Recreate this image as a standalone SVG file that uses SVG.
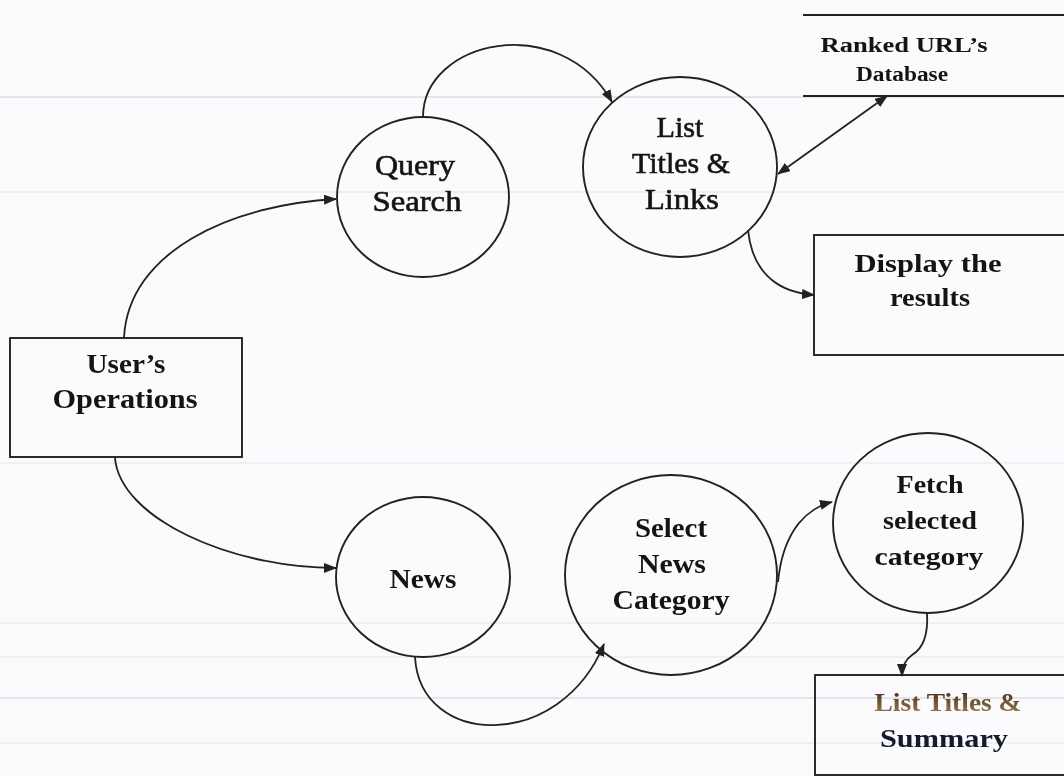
<svg xmlns="http://www.w3.org/2000/svg" width="1064" height="776" viewBox="0 0 1064 776">
  <style>
    .shape { fill: none; stroke: #222; stroke-width: 1.9; }
    .store { stroke: #222; stroke-width: 2.2; }
    .flow { fill: none; stroke: #222; stroke-width: 1.8; }
    .lbl { font-family: "Liberation Serif", "Times New Roman", serif; fill: #141414; text-anchor: middle; }
    .b { font-weight: bold; }
    .m { stroke: #141414; stroke-width: 0.6; }
    .rule { stroke: #c9c6d2; stroke-width: 1.5; }
  </style>
  <defs>
    <marker id="arrow" viewBox="0 0 13 10" markerWidth="13" markerHeight="10" refX="12" refY="5" orient="auto-start-reverse" markerUnits="userSpaceOnUse">
      <path d="M0,0 L13,5 L0,10 z" fill="#222"/>
    </marker>
    <linearGradient id="brown" x1="0" y1="0" x2="0" y2="1">
      <stop offset="0" stop-color="#3a2818"/>
      <stop offset="1" stop-color="#a58650"/>
    </linearGradient>
  </defs>

  <!-- paper background with faint ruled lines -->
  <rect x="0" y="0" width="1064" height="776" fill="#fbfafc"/>
  <g id="paper-rules" opacity="0.55">
    <line class="rule" x1="0" y1="97" x2="1064" y2="97" stroke="#d8cfd6"/>
    <line class="rule" x1="0" y1="192" x2="1064" y2="192" opacity="0.6"/>
    <line class="rule" x1="0" y1="463" x2="1064" y2="463" opacity="0.5"/>
    <line class="rule" x1="0" y1="623" x2="1064" y2="623" opacity="0.6"/>
    <line class="rule" x1="0" y1="657" x2="1064" y2="657" opacity="0.6"/>
    <line class="rule" x1="0" y1="698" x2="1064" y2="698" stroke="#a9a9bd"/>
    <line class="rule" x1="0" y1="743" x2="1064" y2="743" opacity="0.6"/>
  </g>

  <!-- connectors -->
  <g id="connectors">
    <path class="flow" d="M124,338 C128,252 230,205 336,199" marker-end="url(#arrow)"/>
    <path class="flow" d="M115,458 C120,518 230,568 336,568" marker-end="url(#arrow)"/>
    <path class="flow" d="M423,117 C423,40 560,10 612,102" marker-end="url(#arrow)"/>
    <path class="flow" d="M778,174 L887,96" marker-start="url(#arrow)" marker-end="url(#arrow)"/>
    <path class="flow" d="M748,230 C752,270 775,292 814,295" marker-end="url(#arrow)"/>
    <path class="flow" d="M415,657 C420,748 560,752 604,644" marker-end="url(#arrow)"/>
    <path class="flow" d="M778,582 C782,540 800,510 832,502" marker-end="url(#arrow)"/>
    <path class="flow" d="M927,613 Q929,645 912,655 Q902,662 902,676" marker-end="url(#arrow)"/>
  </g>

  <g id="users-operations">
    <rect class="shape" x="10" y="338" width="232" height="119"/>
    <text class="lbl b" font-size="28" x="126" y="373" textLength="79" lengthAdjust="spacingAndGlyphs">User’s</text>
    <text class="lbl b" font-size="28" x="125" y="408" textLength="145" lengthAdjust="spacingAndGlyphs">Operations</text>
  </g>

  <g id="query-search">
    <ellipse class="shape" cx="423" cy="197" rx="86" ry="80"/>
    <text class="lbl m" font-size="29" x="415" y="175" textLength="80" lengthAdjust="spacingAndGlyphs">Query</text>
    <text class="lbl m" font-size="29" x="417" y="211" textLength="89" lengthAdjust="spacingAndGlyphs">Search</text>
  </g>

  <g id="list-titles-links">
    <ellipse class="shape" cx="680" cy="167" rx="97" ry="90"/>
    <text class="lbl m" font-size="29" x="680" y="137" textLength="47" lengthAdjust="spacingAndGlyphs">List</text>
    <text class="lbl m" font-size="29" x="681" y="173" textLength="98" lengthAdjust="spacingAndGlyphs">Titles &amp;</text>
    <text class="lbl m" font-size="29" x="682" y="209" textLength="74" lengthAdjust="spacingAndGlyphs">Links</text>
  </g>

  <g id="ranked-urls-database">
    <line class="store" x1="803" y1="15" x2="1064" y2="15"/>
    <line class="store" x1="803" y1="96" x2="1064" y2="96"/>
    <text class="lbl b" font-size="20" x="904" y="52" textLength="167" lengthAdjust="spacingAndGlyphs">Ranked URL’s</text>
    <text class="lbl b" font-size="20" x="902" y="81" textLength="92" lengthAdjust="spacingAndGlyphs">Database</text>
  </g>

  <g id="display-results">
    <rect class="shape" x="814" y="235" width="262" height="120"/>
    <text class="lbl b" font-size="26" x="928" y="272" textLength="147" lengthAdjust="spacingAndGlyphs">Display the</text>
    <text class="lbl b" font-size="26" x="930" y="306" textLength="80" lengthAdjust="spacingAndGlyphs">results</text>
  </g>

  <g id="news">
    <ellipse class="shape" cx="423" cy="577" rx="87" ry="80"/>
    <text class="lbl b" font-size="27" x="423" y="588" textLength="67" lengthAdjust="spacingAndGlyphs">News</text>
  </g>

  <g id="select-news-category">
    <ellipse class="shape" cx="671" cy="575" rx="106" ry="100"/>
    <text class="lbl b" font-size="27" x="671" y="537" textLength="72" lengthAdjust="spacingAndGlyphs">Select</text>
    <text class="lbl b" font-size="27" x="672" y="573" textLength="68" lengthAdjust="spacingAndGlyphs">News</text>
    <text class="lbl b" font-size="27" x="671" y="609" textLength="117" lengthAdjust="spacingAndGlyphs">Category</text>
  </g>

  <g id="fetch-selected-category">
    <ellipse class="shape" cx="928" cy="523" rx="95" ry="90"/>
    <text class="lbl b" font-size="26" x="930" y="493" textLength="67" lengthAdjust="spacingAndGlyphs">Fetch</text>
    <text class="lbl b" font-size="26" x="930" y="529" textLength="94" lengthAdjust="spacingAndGlyphs">selected</text>
    <text class="lbl b" font-size="26" x="929" y="565" textLength="109" lengthAdjust="spacingAndGlyphs">category</text>
  </g>

  <g id="list-titles-summary">
    <rect class="shape" x="815" y="675" width="262" height="100"/>
    <text class="lbl b" font-size="26" x="948" y="711" textLength="147" lengthAdjust="spacingAndGlyphs" style="fill:url(#brown)">List Titles &amp;</text>
    <text class="lbl b" font-size="26" x="944" y="747" textLength="128" lengthAdjust="spacingAndGlyphs" style="fill:#141a2a">Summary</text>
  </g>
</svg>
